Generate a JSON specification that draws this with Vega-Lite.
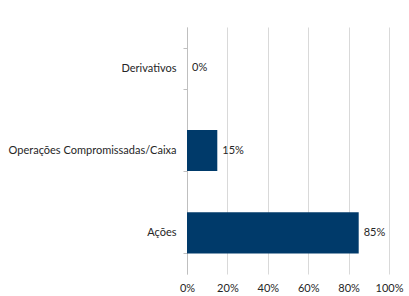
{
  "$schema": "https://vega.github.io/schema/vega-lite/v6.json",
  "autosize": "none",
  "width": 202,
  "height": 247,
  "padding": {"left": 187, "top": 27, "right": 20, "bottom": 22},
  "background": "white",
  "config": {
    "view": {"stroke": null},
    "font": "Lato",
    "axis": {"labelFont": "Lato", "labelFontSize": 11, "labelColor": "#262626"}
  },
  "data": {
    "values": [
      {"categoria": "Derivativos", "valor": 0},
      {"categoria": "Operações Compromissadas/Caixa", "valor": 0.15},
      {"categoria": "Ações", "valor": 0.85}
    ]
  },
  "encoding": {
    "y": {
      "field": "categoria",
      "type": "nominal",
      "sort": ["Derivativos", "Operações Compromissadas/Caixa", "Ações"],
      "scale": {"paddingInner": 0.5, "paddingOuter": 0.25},
      "axis": {
        "title": null,
        "domainColor": "#bfbfbf",
        "tickColor": "#bfbfbf",
        "tickBand": "extent",
        "tickSize": 4,
        "labelPadding": 7,
        "grid": false
      }
    },
    "x": {
      "field": "valor",
      "type": "quantitative",
      "scale": {"domain": [0, 1], "nice": false},
      "axis": {
        "title": null,
        "values": [0, 0.2, 0.4, 0.6, 0.8, 1],
        "format": ".0%",
        "labelFlush": false,
        "labelOverlap": false,
        "domain": false,
        "ticks": false,
        "grid": true,
        "gridColor": "#d9d9d9",
        "labelPadding": 8
      }
    }
  },
  "layer": [
    {"mark": {"type": "bar", "color": "#003A6A"}},
    {
      "mark": {"type": "text", "align": "left", "dx": 5, "font": "Lato", "fontSize": 11, "color": "#262626"},
      "encoding": {"text": {"field": "valor", "type": "quantitative", "format": ".0%"}}
    }
  ]
}
